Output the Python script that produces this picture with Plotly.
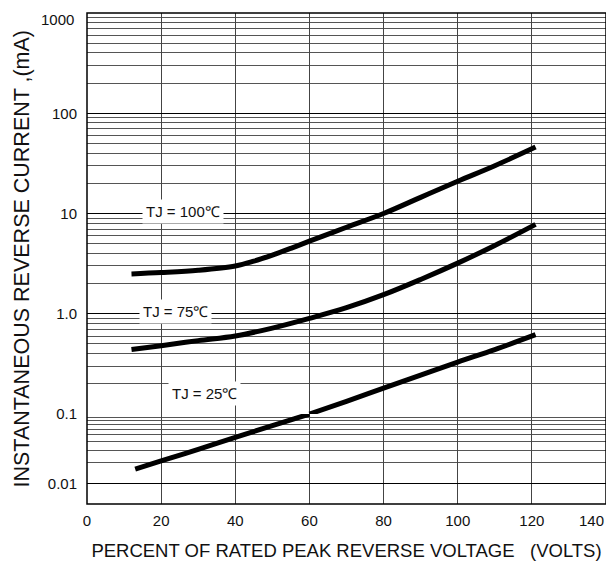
import numpy as np
import plotly.graph_objects as go

# ---- data ----
pct_100 = [12, 20, 30, 40, 45, 50, 55, 60, 70, 80, 90, 100, 110, 121]
cur_100 = [2.5, 2.58, 2.72, 3.0, 3.35, 3.85, 4.5, 5.3, 7.3, 10, 14.5, 21, 30, 46]

pct_75 = [12, 20, 30, 40, 50, 60, 70, 80, 90, 100, 110, 121]
cur_75 = [0.44, 0.48, 0.54, 0.6, 0.72, 0.9, 1.15, 1.55, 2.2, 3.2, 4.8, 7.8]

pct_25 = [13, 20, 30, 40, 50, 60, 70, 80, 90, 100, 110, 121]
cur_25 = [0.016, 0.021, 0.031, 0.046, 0.068, 0.1, 0.134, 0.181, 0.244, 0.33, 0.44, 0.62]

x_ticks = [0, 20, 40, 60, 80, 100, 120, 140]
x_ticklabels = ["0", "20", "40", "60", "80", "100", "120", ""]
x_last_label = "140"
y_ticks_upper = [0.1, 1, 10, 100, 1000]
y_ticklabels_upper = ["0.1", "1.0", "10", "100", ""]
y_top_label = "1000"
y_ticks_lower = [0.01]
y_ticklabels_lower = ["0.01"]

labels = ["TJ = 100\u2103", "TJ = 75\u2103", "TJ = 25\u2103"]
label_x = [26, 23.8, 31.7]
label_y = [10.5, 1.06, 0.16]

x_title = "PERCENT OF RATED PEAK REVERSE VOLTAGE   (VOLTS)"
y_title = "INSTANTANEOUS REVERSE CURRENT ,(mA)"

SPLIT = 0.1  # the reference's last decade (0.01-0.1) is drawn compressed

FONT = "Liberation Sans, Arial, sans-serif"
LINE = dict(color="black", width=5)

fig = go.Figure()

def add_curve(xs, ys):
    xs = np.array(xs); ys = np.array(ys)
    up = ys >= SPLIT
    lo = ys <= SPLIT
    if up.any():
        fig.add_trace(go.Scatter(x=xs[up], y=ys[up], mode="lines",
                                 line=dict(LINE, shape="spline", smoothing=1.0),
                                 yaxis="y", showlegend=False, hoverinfo="skip"))
    if lo.any():
        fig.add_trace(go.Scatter(x=xs[lo], y=ys[lo], mode="lines",
                                 line=dict(LINE, shape="spline", smoothing=1.0),
                                 yaxis="y2", showlegend=False, hoverinfo="skip"))

add_curve(pct_100, cur_100)
add_curve(pct_75, cur_75)
add_curve(pct_25, cur_25)

def minor_vals(lo_exp, hi_exp):
    v = []
    for e in range(lo_exp, hi_exp):
        for m in range(2, 10):
            v.append(m * 10 ** e)
    return v

# page has an 8px body margin; plot area on screen: 87..606 x 12.7..504
lower_frac = 90 / 491.3

fig.update_layout(
    width=606, height=559,
    margin=dict(l=79, r=8, t=5, b=63),
    paper_bgcolor="white", plot_bgcolor="white",
    font=dict(family=FONT, size=15, color="#111"),
    xaxis=dict(
        range=[0, 140], tickmode="array", tickvals=x_ticks, ticktext=x_ticklabels,
        ticks="", showgrid=True,
        gridcolor="#444", gridwidth=1, zeroline=False, anchor="y2",
        tickfont=dict(size=15), ticklabelstandoff=6, automargin=False,
        title=dict(text=x_title, font=dict(size=18.5), standoff=16),
    ),
    yaxis=dict(
        type="log", domain=[lower_frac, 1], range=[-1, 3],
        tickmode="array", tickvals=y_ticks_upper, ticktext=y_ticklabels_upper,
        ticks="", showgrid=True, gridcolor="black", gridwidth=1, zeroline=False,
        minor=dict(tickvals=minor_vals(-1, 3), showgrid=True, gridcolor="#555", gridwidth=1),
        tickfont=dict(size=15), ticklabelstandoff=9, automargin=False,
    ),
    yaxis2=dict(
        type="log", domain=[0, lower_frac], range=[-2.299, -1],
        tickmode="array", tickvals=y_ticks_lower, ticktext=y_ticklabels_lower,
        ticks="", showgrid=True, gridcolor="black", gridwidth=1, zeroline=False,
        minor=dict(tickvals=minor_vals(-2, -1), showgrid=True, gridcolor="#555", gridwidth=1),
        tickfont=dict(size=15), ticklabelstandoff=9, automargin=False,
        anchor="x",
    ),
)

# frame
fig.add_shape(type="rect", xref="paper", yref="paper", x0=0, x1=1, y0=0, y1=1,
              line=dict(color="black", width=1.5), layer="above")

# y-axis title spanning the whole plot height
fig.add_annotation(x=0, y=0.5, xref="paper", yref="paper", text=y_title, showarrow=False,
                   textangle=-90, xanchor="center", yanchor="middle", xshift=-66,
                   font=dict(size=21.5, color="#111", family=FONT))

# end labels kept inside the figure as in the reference
fig.add_annotation(x=140, y=0, xref="x", yref="paper", text=x_last_label, showarrow=False,
                   xanchor="right", yanchor="top", yshift=-6,
                   font=dict(size=15, color="#111", family=FONT))
fig.add_annotation(x=0, y=3, xref="paper", yref="y", text=y_top_label, showarrow=False,
                   xanchor="right", yanchor="top", xshift=-11, yshift=4,
                   font=dict(size=15, color="#111", family=FONT))

for t, xv, yv in zip(labels, label_x, label_y):
    fig.add_annotation(x=xv, y=np.log10(yv), xref="x", yref="y", text=t, showarrow=False,
                       font=dict(size=15, color="#111", family=FONT),
                       bgcolor="white", borderpad=3)

fig.write_html("out.html")
